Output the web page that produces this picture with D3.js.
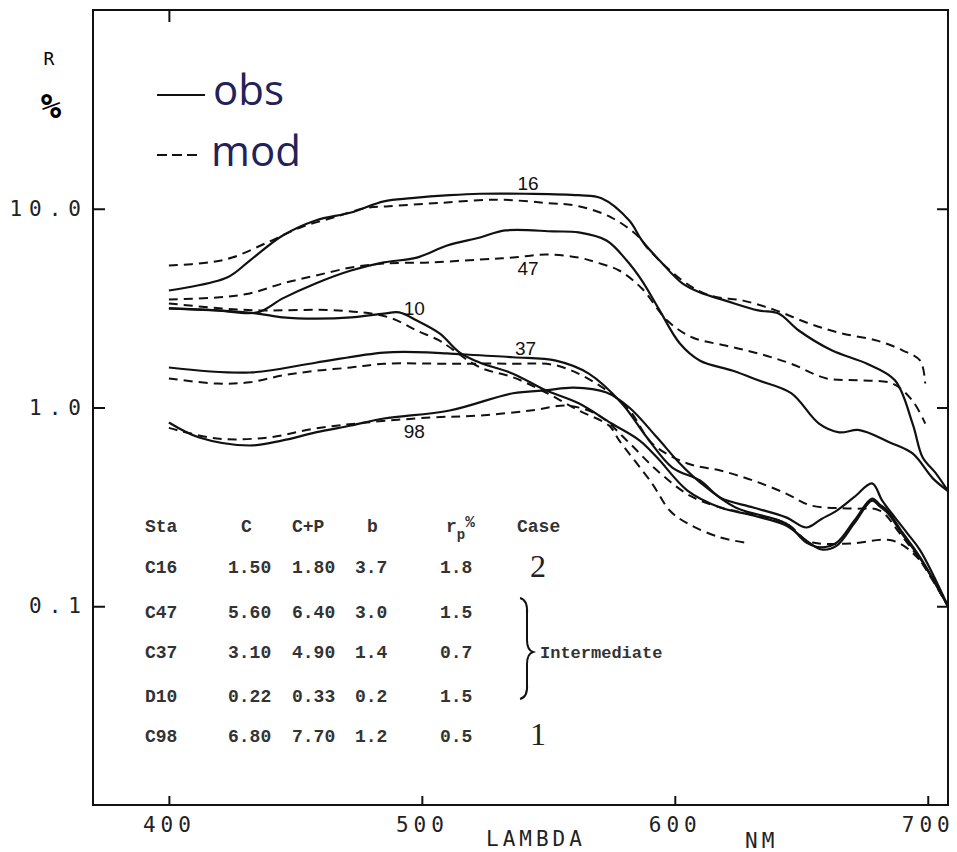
<!DOCTYPE html>
<html>
<head>
<meta charset="utf-8">
<script src="https://cdn.jsdelivr.net/npm/d3@7"></script>
<style>
    html, body { margin: 0; padding: 0; background: #fff; }
    svg { display: block; }
    .frame { fill: none; stroke: #111; stroke-width: 2; }
    .axis line { stroke: #111; stroke-width: 2; }
    .axis text {
        font-family: "DejaVu Sans Mono", monospace;
        font-size: 21px;
        letter-spacing: 5px;
        fill: #222;
    }
    .y-axis text { letter-spacing: 7px; }
    .obs { fill: none; stroke: #111; stroke-width: 2.2; }
    .mod { fill: none; stroke: #111; stroke-width: 2; stroke-dasharray: 9 6; }
    .curve-label { font-family: "Liberation Sans", sans-serif; font-size: 19px; fill: #111; }
    .legend text { font-family: "Open Sans", sans-serif; font-size: 42px; fill: #222258; }
    .table text {
        font-family: "Liberation Mono", monospace;
        font-size: 18px;
        font-weight: bold;
        fill: #333;
    }
    .case-num { font-family: "Liberation Serif", serif; font-size: 32px; fill: #222; }
</style>
</head>
<body>
<svg width="957" height="852"></svg>
<script>
/*global d3 */
(function () {
    "use strict";

    // axis ticks
    var xTicks = [400, 500, 600, 700];
    var yTicks = [10, 1, 0.1];

    // [lambda nm, R %]
    var obs16 = [[400, 3.88], [423, 4.51], [432, 5.49], [445, 7.33], [458, 8.73],
        [472, 9.57], [485, 10.9], [496, 11.3], [511, 11.7], [523, 11.9],
        [541, 11.9], [562, 11.7], [571, 11.3], [582, 8.73], [587, 6.92],
        [594, 5.49], [603, 4.21], [610, 3.79], [620, 3.45], [633, 3.08],
        [641, 2.97], [649, 2.44], [662, 1.94], [676, 1.66], [687, 1.37],
        [694, 0.83], [698, 0.56], [703, 0.47], [708, 0.38]];
    var mod16 = [[400, 5.18], [416, 5.37], [425, 5.68], [439, 6.77], [452, 8.05],
        [465, 9.03], [478, 10.1], [487, 10.3], [507, 10.7], [530, 11.1],
        [549, 10.7], [562, 10.3], [575, 9.03], [586, 7.17], [589, 6.38],
        [603, 4.35], [614, 3.66], [627, 3.45], [640, 3.08], [653, 2.65],
        [666, 2.36], [680, 2.17], [690, 1.94], [697, 1.72], [699, 1.32]];
    var obs47 = [[400, 3.15], [419, 3.08], [435, 3.01], [445, 3.54], [458, 4.21],
        [472, 4.89], [485, 5.37], [498, 5.68], [510, 6.53], [523, 7.17],
        [533, 7.78], [552, 7.69], [562, 7.6], [573, 6.92], [581, 5.49],
        [587, 4.35], [594, 3.08], [602, 2.1], [610, 1.72], [623, 1.53],
        [633, 1.37], [646, 1.18], [657, 0.83], [665, 0.75], [673, 0.77],
        [685, 0.667], [694, 0.587], [702, 0.44], [708, 0.38]];
    var mod47 = [[400, 3.49], [419, 3.58], [432, 3.75], [445, 4.21], [458, 4.61],
        [472, 5.06], [485, 5.3], [503, 5.37], [523, 5.55], [536, 5.68],
        [549, 5.89], [562, 5.68], [569, 5.37], [578, 4.89], [587, 3.97],
        [597, 2.74], [607, 2.25], [620, 2.05], [633, 1.87], [646, 1.66],
        [660, 1.4], [673, 1.37], [686, 1.32], [694, 1.08], [699, 0.83]];
    var obs10 = [[400, 3.15], [419, 3.08], [435, 2.97], [445, 2.84], [458, 2.8],
        [472, 2.84], [485, 2.97], [491, 3.01], [498, 2.74], [507, 2.36],
        [515, 1.89], [523, 1.68], [536, 1.48], [549, 1.22], [562, 1.05],
        [575, 0.831], [586, 0.683], [593, 0.56], [605, 0.382], [618, 0.314],
        [631, 0.286], [644, 0.255], [652, 0.214], [658, 0.193], [664, 0.202],
        [671, 0.262], [678, 0.34], [681, 0.318], [684, 0.296], [690, 0.23],
        [697, 0.174], [708, 0.1]];
    var mod10 = [[400, 3.34], [421, 3.15], [436, 3.08], [467, 3.08], [487, 2.84],
        [498, 2.44], [507, 2.17], [510, 2.05], [523, 1.59], [536, 1.42],
        [549, 1.19], [562, 0.966], [574, 0.811], [578, 0.683], [591, 0.415],
        [598, 0.303], [605, 0.261], [618, 0.222], [628, 0.209]];
    var obs37 = [[400, 1.59], [432, 1.5], [458, 1.68], [485, 1.89], [504, 1.89],
        [510, 1.87], [536, 1.79], [553, 1.72], [566, 1.48], [579, 1.05],
        [589, 0.706], [599, 0.499], [610, 0.429], [618, 0.352], [631, 0.314],
        [644, 0.28], [652, 0.249], [658, 0.275], [664, 0.303], [671, 0.355],
        [678, 0.415], [682, 0.34], [687, 0.28], [692, 0.232], [697, 0.191],
        [708, 0.1]];
    var mod37 = [[400, 1.4], [419, 1.32], [432, 1.34], [445, 1.45], [458, 1.53],
        [472, 1.59], [485, 1.66], [511, 1.66], [536, 1.66], [553, 1.63],
        [569, 1.32], [582, 0.97], [591, 0.659], [605, 0.523], [618, 0.482],
        [631, 0.429], [644, 0.369], [654, 0.321], [670, 0.31], [681, 0.303],
        [689, 0.232], [697, 0.17], [708, 0.1]];
    var obs98 = [[400, 0.84], [412, 0.706], [432, 0.644], [445, 0.683], [458, 0.749],
        [472, 0.812], [485, 0.88], [511, 0.966], [536, 1.18], [549, 1.22],
        [560, 1.26], [573, 1.19], [582, 1.0], [593, 0.706], [602, 0.523],
        [610, 0.42], [624, 0.314], [644, 0.261], [652, 0.209], [658, 0.198],
        [664, 0.209], [671, 0.27], [678, 0.348], [681, 0.325], [684, 0.303],
        [690, 0.235], [697, 0.176], [708, 0.1]];
    var mod98 = [[400, 0.79], [419, 0.698], [439, 0.706], [458, 0.784], [478, 0.84],
        [504, 0.891], [523, 0.911], [543, 0.966], [558, 1.02], [570, 0.911],
        [581, 0.683], [593, 0.482], [606, 0.36], [618, 0.314], [644, 0.261],
        [652, 0.214], [657, 0.207], [670, 0.207], [686, 0.214], [697, 0.17],
        [708, 0.1]];

    var stations = ["16", "47", "10", "37", "98"];
    var observed = [obs16, obs47, obs10, obs37, obs98];
    var modelled = [mod16, mod47, mod10, mod37, mod98];
    // where each station number is written, [lambda, R]
    var labelAt = [[542, 12.4], [542, 4.64], [497, 2.92], [541, 1.84], [497, 0.703]];

    // table in the lower left
    var tableHead = ["Sta", "C", "C+P", "b", "r"];
    var staNames = ["C16", "C47", "C37", "D10", "C98"];
    var chl = ["1.50", "5.60", "3.10", "0.22", "6.80"];
    var chlPhaeo = ["1.80", "6.40", "4.90", "0.33", "7.70"];
    var bValues = ["3.7", "3.0", "1.4", "0.2", "1.2"];
    var rpValues = ["1.8", "1.5", "0.7", "1.5", "0.5"];

    var svg = d3.select("svg");
    var margin = {top: 10, left: 93, right: 9, bottom: 47};
    var width = 957 - margin.left - margin.right;
    var height = 852 - margin.top - margin.bottom;

    var x = d3.scaleLinear().domain([370, 708]).range([0, width]);
    var y = d3.scaleLog().domain([0.01, 100]).range([height, 0]);

    var g = svg.append("g")
        .attr("transform", "translate(" + margin.left + "," + margin.top + ")");

    var cleanAxis = function (name) {
        return function (sel) {
            sel.select(".domain").remove();
            sel.attr("class", "axis " + name);
        };
    };

    g.append("g")
        .attr("transform", "translate(0," + height + ")")
        .call(d3.axisBottom(x).tickValues(xTicks).tickSize(-9)
            .tickSizeOuter(0).tickPadding(12))
        .call(cleanAxis("x-axis"));

    g.append("g")
        .call(d3.axisLeft(y).tickValues(yTicks).tickSize(-12)
            .tickSizeOuter(0).tickPadding(5).tickFormat(d3.format(".1f")))
        .call(cleanAxis("y-axis"));

    g.append("g")
        .attr("transform", "translate(" + width + ",0)")
        .call(d3.axisRight(y).tickValues(yTicks).tickSize(-11)
            .tickSizeOuter(0).tickFormat(""))
        .call(cleanAxis("y-right"));

    g.append("g")
        .call(d3.axisTop(x).tickValues([400]).tickSize(-12)
            .tickSizeOuter(0).tickFormat(""))
        .call(cleanAxis("x-top"));

    g.append("rect")
        .attr("class", "frame")
        .attr("width", width)
        .attr("height", height);

    var line = d3.line()
        .x(function (d) { return x(d[0]); })
        .y(function (d) { return y(d[1]); })
        .curve(d3.curveCatmullRom.alpha(0.5));

    g.selectAll("path.mod")
        .data(modelled)
        .join("path")
        .attr("class", "mod")
        .attr("d", line);

    g.selectAll("path.obs")
        .data(observed)
        .join("path")
        .attr("class", "obs")
        .attr("d", line);

    g.selectAll("text.curve-label")
        .data(stations)
        .join("text")
        .attr("class", "curve-label")
        .attr("text-anchor", "middle")
        .attr("x", function (d, i) { return x(labelAt[i][0]); })
        .attr("y", function (d, i) { return y(labelAt[i][1]); })
        .text(function (d) { return d; });

    // axis titles
    svg.append("text")
        .attr("x", 49).attr("y", 65)
        .attr("text-anchor", "middle")
        .style("font-family", "DejaVu Sans Mono")
        .style("font-size", "18px")
        .text("R");
    svg.append("text")
        .attr("x", 51).attr("y", 118)
        .attr("text-anchor", "middle")
        .style("font-family", "DejaVu Sans Mono")
        .style("font-size", "34px")
        .style("font-weight", "bold")
        .text("%");
    svg.append("text")
        .attr("x", 486).attr("y", 846)
        .style("font-family", "DejaVu Sans Mono")
        .style("font-size", "21px")
        .style("letter-spacing", "4px")
        .attr("fill", "#222")
        .text("LAMBDA");
    svg.append("text")
        .attr("x", 745).attr("y", 848)
        .style("font-family", "DejaVu Sans Mono")
        .style("font-size", "21px")
        .style("letter-spacing", "4px")
        .attr("fill", "#222")
        .text("NM");

    // legend
    var legend = svg.append("g").attr("class", "legend");
    legend.append("line")
        .attr("class", "obs")
        .attr("x1", 157).attr("x2", 205).attr("y1", 95).attr("y2", 95);
    legend.append("line")
        .attr("class", "mod")
        .style("stroke-dasharray", "10 5")
        .attr("x1", 157).attr("x2", 202).attr("y1", 155).attr("y2", 155);
    legend.append("text").attr("x", 213).attr("y", 105).text("obs");
    legend.append("text").attr("x", 211).attr("y", 166).text("mod");

    // station table
    var table = svg.append("g").attr("class", "table");
    var colX = [145, 228, 292, 355, 440];
    var headX = [145, 241, 292, 367, 446];
    var rowY = [573, 618, 658, 702, 742];

    tableHead.forEach(function (h, i) {
        table.append("text").attr("x", headX[i]).attr("y", 532).text(h);
    });
    var rp = table.select("text:last-child");
    rp.append("tspan").attr("dy", 7).style("font-size", "14px").text("p");
    rp.append("tspan").attr("dy", -12).style("font-size", "16px").text("%");
    table.append("text").attr("x", 517).attr("y", 532).text("Case");

    [staNames, chl, chlPhaeo, bValues, rpValues].forEach(function (col, c) {
        col.forEach(function (v, r) {
            table.append("text")
                .attr("x", colX[c])
                .attr("y", rowY[r])
                .text(v);
        });
    });

    svg.append("text").attr("class", "case-num")
        .attr("x", 530).attr("y", 577).text("2");
    svg.append("text").attr("class", "case-num")
        .attr("x", 530).attr("y", 745).text("1");

    svg.append("path")
        .attr("d", "M520,598 Q528,600 527,614 L527,640 Q527,650 533,652 " +
                "Q527,654 527,664 L527,684 Q528,697 520,699")
        .attr("fill", "none")
        .attr("stroke", "#111")
        .attr("stroke-width", 2);
    table.append("text")
        .attr("x", 540).attr("y", 658)
        .style("font-size", "17px")
        .text("Intermediate");
}());
</script>
</body>
</html>
